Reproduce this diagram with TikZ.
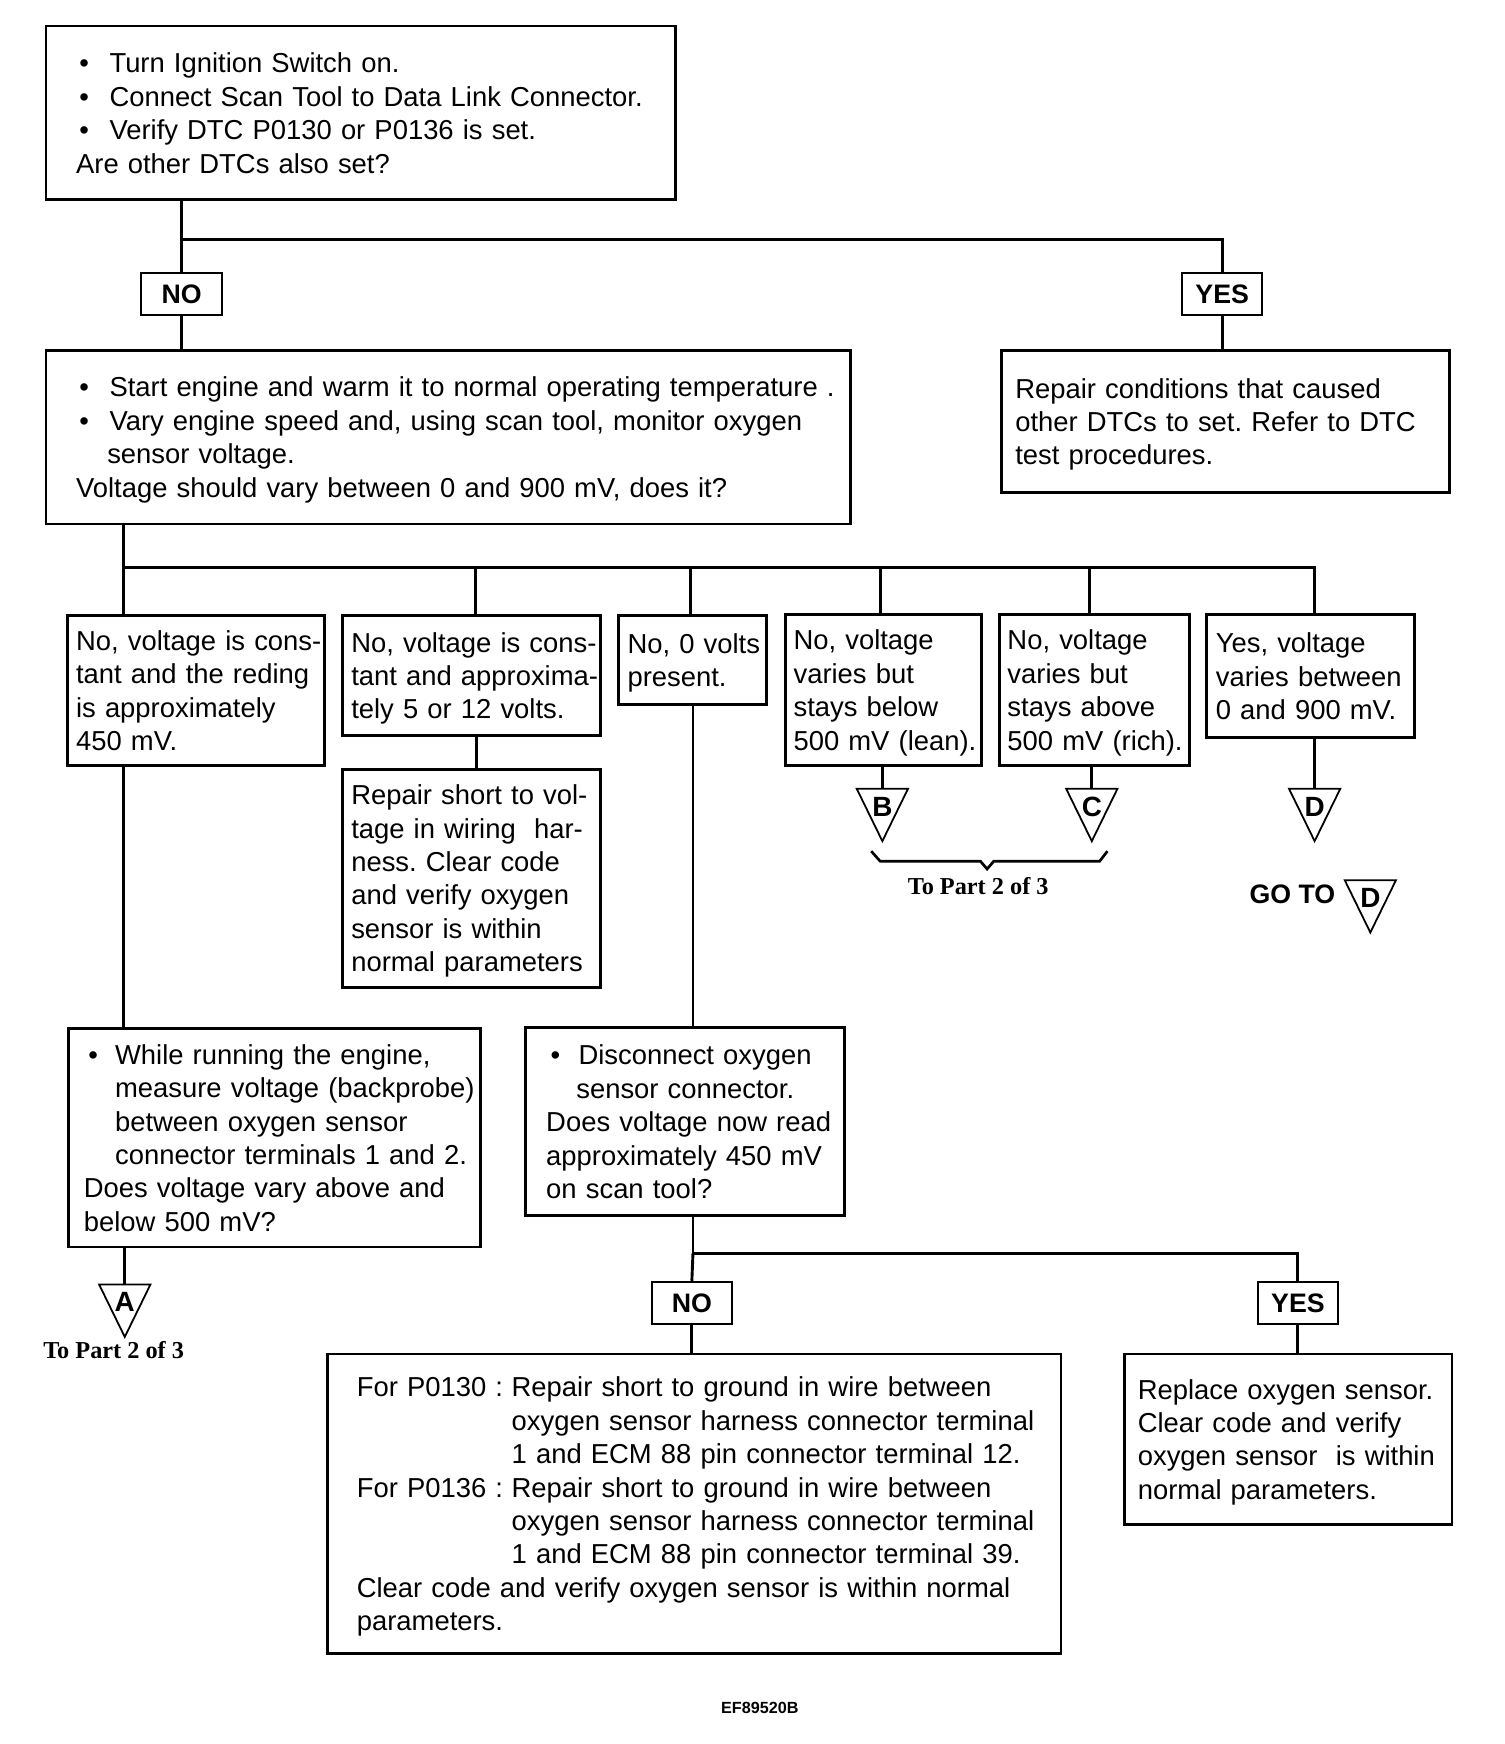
\documentclass[tikz,border=0pt]{standalone}
\usepackage{fontspec}
\setmainfont{Liberation Sans}
\newfontfamily\serifbold{Liberation Serif}
\frenchspacing
\newcommand{\bl}[2]{\makebox[#1pt][l]{\hspace{#2pt}•}}
\newcommand{\tb}[1]{\raisebox{-3pt}[\height][\depth]{\begin{tabular}{@{}l@{}}#1\end{tabular}}}
\newcommand{\trimark}[4]{%
  \draw[tri] (#2-23,#3) -- (#2+23,#3) -- (#2,#3+47) -- cycle;
  \coordinate (#1top) at (#2,#3);
  \node[trl] (#1) at (#2,#3+16) {#4};}
\begin{document}
\frenchspacing
\begin{tikzpicture}[x=1pt,y=-1pt,
  box/.style={draw, line width=2.6pt, anchor=north west, inner xsep=0pt, inner ysep=0pt,
    align=left, font=\fontsize{24.6}{30}\selectfont},
  lbl/.style={draw, line width=1.8pt, minimum width=72pt, minimum height=38pt, inner sep=0pt,
    font=\fontsize{24}{28}\selectfont\bfseries},
  conn/.style={line width=2.6pt},
  tri/.style={line width=1.6pt},
  trl/.style={inner sep=0pt, font=\fontsize{25}{26}\selectfont\bfseries},
  note/.style={inner sep=0pt, font=\fontsize{21.8}{24}\selectfont\serifbold\bfseries}]
\useasboundingbox (0,0) rectangle (1350,1565.4);

% top box
\node[box, minimum width=565pt, minimum height=156pt, text width=511pt] (b1) at (40,22)
{\tb{\bl{30}{3}Turn Ignition Switch on.\\
 \bl{30}{3}Connect Scan Tool to Data Link Connector.\\
 \bl{30}{3}Verify DTC P0130 or P0136 is set.\\
 Are other DTCs also set?}};

\node[lbl] (no1) at (163,264) {NO};
\node[lbl] (yes1) at (1097,264) {YES};

\node[box, minimum width=722pt, minimum height=156pt, text width=668pt] (b2) at (40,313)
{\tb{\bl{30}{3}Start engine and warm it to normal operating temperature .\\
 \bl{30}{3}Vary engine speed and, using scan tool, monitor oxygen\\
 \hspace*{28pt}sensor voltage.\\
 Voltage should vary between 0 and 900 mV, does it?}};

\node[box, minimum width=402pt, minimum height=128pt, text width=378pt] (b3) at (898,313)
{\tb{Repair conditions that caused\\
 other DTCs to set. Refer to DTC\\
 test procedures.}};

\coordinate (j1) at (163,215);
\coordinate (j2) at (1097,215);
\draw[conn] (b1.south -| j1) -- (no1.north);
\draw[conn] (j1) -- (j2) -- (yes1.north);
\draw[conn] (no1.south) -- (b2.north -| no1);
\draw[conn] (yes1.south) -- (b3.north -| yes1);

% row of answer boxes
\node[box, minimum width=231pt, minimum height=135pt, text width=215pt] (ba) at (59,551)
{\tb{No, voltage is cons-\\tant and the reding\\is approximately\\450 mV.}};
\node[box, minimum width=232pt, minimum height=108pt, text width=216pt] (bb) at (306,551)
{\tb{No, voltage is cons-\\tant and approxima-\\tely 5 or 12 volts.}};
\node[box, minimum width=133pt, minimum height=80pt, text width=117pt] (bc) at (554,551)
{\tb{No, 0 volts\\present.}};
\node[box, minimum width=176pt, minimum height=136pt, text width=162pt] (bd) at (704,550)
{\tb{No, voltage\\varies but\\stays below\\500 mV (lean).}};
\node[box, minimum width=170pt, minimum height=136pt, text width=156pt] (be) at (896,550)
{\tb{No, voltage\\varies but\\stays above\\500 mV (rich).}};
\node[box, minimum width=186pt, minimum height=111pt, text width=170pt] (bf) at (1082,550)
{\tb{Yes, voltage\\varies between\\0 and 900 mV.}};

\coordinate (d1) at (111,509);
\coordinate (d2) at (427,509);
\coordinate (d3) at (620,509);
\coordinate (d4) at (790,509);
\coordinate (d5) at (978,509);
\coordinate (d6) at (1180,509);
\draw[conn] (b2.south -| d1) -- (d1) -- (d6) -- (d6 |- bf.north);
\draw[conn] (d1) -- (d1 |- ba.north);
\draw[conn] (d2) -- (d2 |- bb.north);
\draw[conn] (d3) -- (d3 |- bc.north);
\draw[conn] (d4) -- (d4 |- bd.north);
\draw[conn] (d5) -- (d5 |- be.north);

% repair short to voltage
\node[box, minimum width=232pt, minimum height=196pt, text width=216pt] (rp) at (306,689)
{\tb{Repair short to vol-\\tage in wiring\ \ har-\\ness. Clear code\\and verify oxygen\\sensor is within\\normal parameters}};
\draw[conn] (bb.south -| 428,0) -- (rp.north -| 428,0);

% while running
\node[box, minimum width=370pt, minimum height=196pt, text width=342pt] (bg) at (60,922)
{\tb{\bl{28}{4}While running the engine,\\
 \hspace*{28pt}measure voltage (backprobe)\\
 \hspace*{28pt}between oxygen sensor\\
 \hspace*{28pt}connector terminals 1 and 2.\\
 Does voltage vary above and\\
 below 500 mV?}};
\draw[conn] (ba.south -| d1) -- (bg.north -| d1);

% disconnect
\node[box, minimum width=287pt, minimum height=169pt, text width=249pt] (bh) at (470,921)
{\tb{\bl{29}{4}Disconnect oxygen\\
 \hspace*{27pt}sensor connector.\\
 Does voltage now read\\
 approximately 450 mV\\
 on scan tool?}};
\coordinate (j5) at (622,1125);
\coordinate (j6) at (1165,1125);
\draw[conn] (bc.south -| j5) -- (bh.north -| j5);

% triangles
\trimark{tA}{112}{1153}{A}
\trimark{tB}{792}{708}{B}
\trimark{tC}{980}{708}{C}
\trimark{tD}{1180}{708}{D}
\trimark{tE}{1230}{790}{D}
\draw[conn] (bg.south -| tAtop) -- (tAtop);
\draw[conn] (bd.south -| tBtop) -- (tBtop);
\draw[conn] (be.south -| tCtop) -- (tCtop);
\draw[conn] (bf.south -| tDtop) -- (tDtop);

\node[note] (pA) at (102,1212) {To Part 2 of 3};
\draw[line width=2.4pt] (782,764) -- (790,773) -- (880,773) -- (886,780) -- (892,773) -- (987,773) -- (994,764);
\node[note] (pBC) at (878,795) {To Part 2 of 3};
\node[inner sep=0pt, font=\fontsize{24}{28}\selectfont\bfseries] (goto) at (1160,803) {GO TO};

% bottom level
\node[lbl] (no2) at (621,1169.5) {NO};
\node[lbl] (yes2) at (1165,1169.5) {YES};
\draw[conn] (bh.south -| j5) -- (j5) -- (j6) -- (yes2.north);
\draw[conn] (j5) -- (no2.north);

\node[box, minimum width=658pt, minimum height=269pt, text width=606pt] (bi) at (293,1214)
{\tb{\makebox[139pt][l]{For P0130 :}Repair short to ground in wire between\\
 \hspace*{139pt}oxygen sensor harness connector terminal\\
 \hspace*{139pt}1 and ECM 88 pin connector terminal 12.\\
 \makebox[139pt][l]{For P0136 :}Repair short to ground in wire between\\
 \hspace*{139pt}oxygen sensor harness connector terminal\\
 \hspace*{139pt}1 and ECM 88 pin connector terminal 39.\\
 Clear code and verify oxygen sensor is within normal\\
 parameters.}};
\node[box, minimum width=294pt, minimum height=153pt, text width=270pt] (bj) at (1008,1214)
{\tb{Replace oxygen sensor.\\
 Clear code and verify\\
 oxygen sensor\ \ is within\\
 normal parameters.}};
\draw[conn] (no2.south) -- (bi.north -| no2);
\draw[conn] (yes2.south) -- (bj.north -| yes2);

\node[inner sep=0pt, font=\fontsize{14.5}{16}\selectfont\bfseries] (code) at (682,1533) {EF89520B};
\end{tikzpicture}
\end{document}
